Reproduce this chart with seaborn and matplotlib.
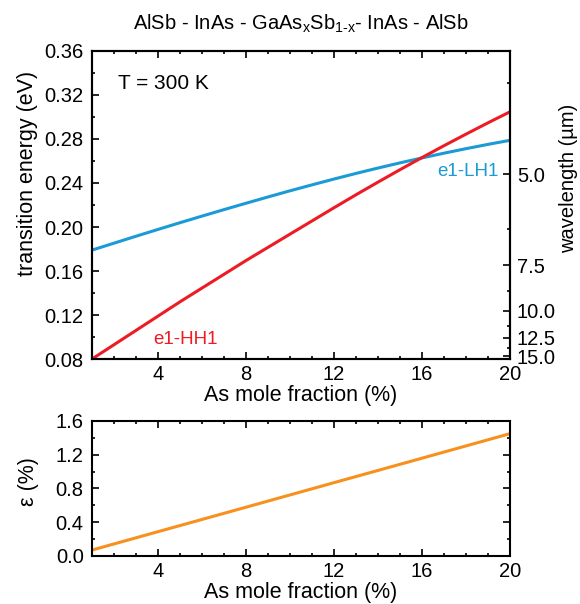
import numpy as np
import pandas as pd
import matplotlib
matplotlib.use("Agg")
import matplotlib.pyplot as plt
import seaborn as sns
from matplotlib.ticker import MultipleLocator, FixedLocator, FormatStrFormatter

# As mole fraction (%)
as_fraction = [1, 2, 3, 4, 5, 6, 7, 8, 9, 10, 11, 12, 13, 14, 15, 16, 17, 18, 19, 20]
# transition energies (eV)
e1_hh1 = [0.0800, 0.0930, 0.1060, 0.1190, 0.1320, 0.1445, 0.1570, 0.1695, 0.1815, 0.1935,
          0.2055, 0.2175, 0.2293, 0.2408, 0.2521, 0.2631, 0.2739, 0.2844, 0.2947, 0.3047]
e1_lh1 = [0.1790, 0.1853, 0.1916, 0.1978, 0.2039, 0.2099, 0.2158, 0.2216, 0.2273, 0.2329,
          0.2383, 0.2436, 0.2487, 0.2536, 0.2583, 0.2628, 0.2671, 0.2712, 0.2751, 0.2788]
# strain (%)
strain_x = [1, 4, 8, 12, 16, 20]
strain = [0.07, 0.288, 0.578, 0.869, 1.159, 1.45]

# right axis: wavelength ticks (um)
wl_major = [5.0, 7.5, 10.0, 12.5, 15.0]
wl_minor = [3.75, 6.25, 8.75, 11.25, 13.75]

RED = "#ED1C24"
BLUE = "#1B9AD6"
ORANGE = "#F7901E"

sns.set_style("ticks")
plt.rcParams["font.family"] = ["Liberation Sans", "DejaVu Sans"]
plt.rcParams["mathtext.fontset"] = "custom"
plt.rcParams["mathtext.rm"] = "Liberation Sans"
plt.rcParams["mathtext.it"] = "Liberation Sans"
plt.rcParams["axes.linewidth"] = 1.5
for key in ["text.color", "axes.labelcolor", "xtick.color", "ytick.color", "axes.edgecolor"]:
    plt.rcParams[key] = "black"

df = pd.DataFrame({"x": as_fraction, "hh": e1_hh1, "lh": e1_lh1})
df_strain = pd.DataFrame({"x": strain_x, "eps": strain})

fig = plt.figure(figsize=(5.8, 6.04), dpi=100)
ax1 = fig.add_axes([0.1586, 0.4056, 0.7207, 0.51])
ax2 = fig.add_axes([0.1586, 0.0795, 0.7207, 0.2235])

# top panel
sns.lineplot(data=df, x="x", y="lh", color=BLUE, lw=2.2, ax=ax1)
sns.lineplot(data=df, x="x", y="hh", color=RED, lw=2.2, ax=ax1)
ax1.set_xlim(1, 20)
ax1.set_ylim(0.08, 0.36)
ax1.xaxis.set_major_locator(FixedLocator([4, 8, 12, 16, 20]))
ax1.xaxis.set_minor_locator(MultipleLocator(1))
ax1.yaxis.set_major_locator(MultipleLocator(0.04))
ax1.yaxis.set_minor_locator(MultipleLocator(0.02))
ax1.yaxis.set_major_formatter(FormatStrFormatter("%.2f"))
ax1.tick_params(axis="x", which="both", direction="in", top=True, labelsize=14.5, pad=4, width=1.2)
ax1.tick_params(axis="y", which="both", direction="in", right=False, labelsize=14.5, pad=6, width=1.2)
ax1.tick_params(which="major", length=5)
ax1.tick_params(which="minor", length=2.5)
ax1.set_xlabel("As mole fraction (%)", fontsize=15.5, labelpad=1)
ax1.set_ylabel("transition energy (eV)", fontsize=15.5)
ax1.yaxis.set_label_coords(-0.13, 0.604)
ax1.set_title("AlSb - InAs - GaAs$_\\mathregular{x}$Sb$_\\mathregular{1\\text{-}x}$- InAs - AlSb",
              fontsize=14.5, pad=15)
ax1.text(0.062, 0.896, "T = 300 K", transform=ax1.transAxes, fontsize=15, va="center", ha="left")
ax1.text(3.79, 0.098, "e1-HH1", color=RED, fontsize=13.5, va="center", ha="left")
ax1.text(19.47, 0.2504, "e1-LH1", color=BLUE, fontsize=13.5, va="center", ha="right")

# wavelength axis
axr = ax1.twinx()
axr.set_ylim(0.08, 0.36)
axr.yaxis.set_major_locator(FixedLocator(1.24 / np.array(wl_major)))
axr.yaxis.set_minor_locator(FixedLocator(1.24 / np.array(wl_minor)))
axr.set_yticklabels([f"{w:.1f}" for w in wl_major])
axr.tick_params(axis="y", which="both", direction="in", labelsize=14.5, pad=5, width=1.2)
axr.tick_params(which="major", length=5)
axr.tick_params(which="minor", length=2.5)
axr.set_ylabel("wavelength (\u00b5m)", fontsize=14.5)
axr.yaxis.set_label_coords(1.118, 0.588)

# bottom panel
sns.lineplot(data=df_strain, x="x", y="eps", color=ORANGE, lw=2.2, ax=ax2)
ax2.set_xlim(1, 20)
ax2.set_ylim(0, 1.6)
ax2.xaxis.set_major_locator(FixedLocator([4, 8, 12, 16, 20]))
ax2.xaxis.set_minor_locator(MultipleLocator(1))
ax2.yaxis.set_major_locator(MultipleLocator(0.4))
ax2.yaxis.set_minor_locator(MultipleLocator(0.2))
ax2.yaxis.set_major_formatter(FormatStrFormatter("%.1f"))
ax2.tick_params(axis="x", which="both", direction="in", top=True, labelsize=14.5, pad=4, width=1.2)
ax2.tick_params(axis="y", which="both", direction="in", right=True, labelsize=14.5, pad=6, width=1.2)
ax2.tick_params(which="major", length=5)
ax2.tick_params(which="minor", length=2.5)
ax2.set_xlabel("As mole fraction (%)", fontsize=15.5, labelpad=1)
ax2.set_ylabel("\u03b5 (%)", fontsize=15.5)
ax2.yaxis.set_label_coords(-0.127, 0.55)

fig.savefig("out.png", dpi=100)
